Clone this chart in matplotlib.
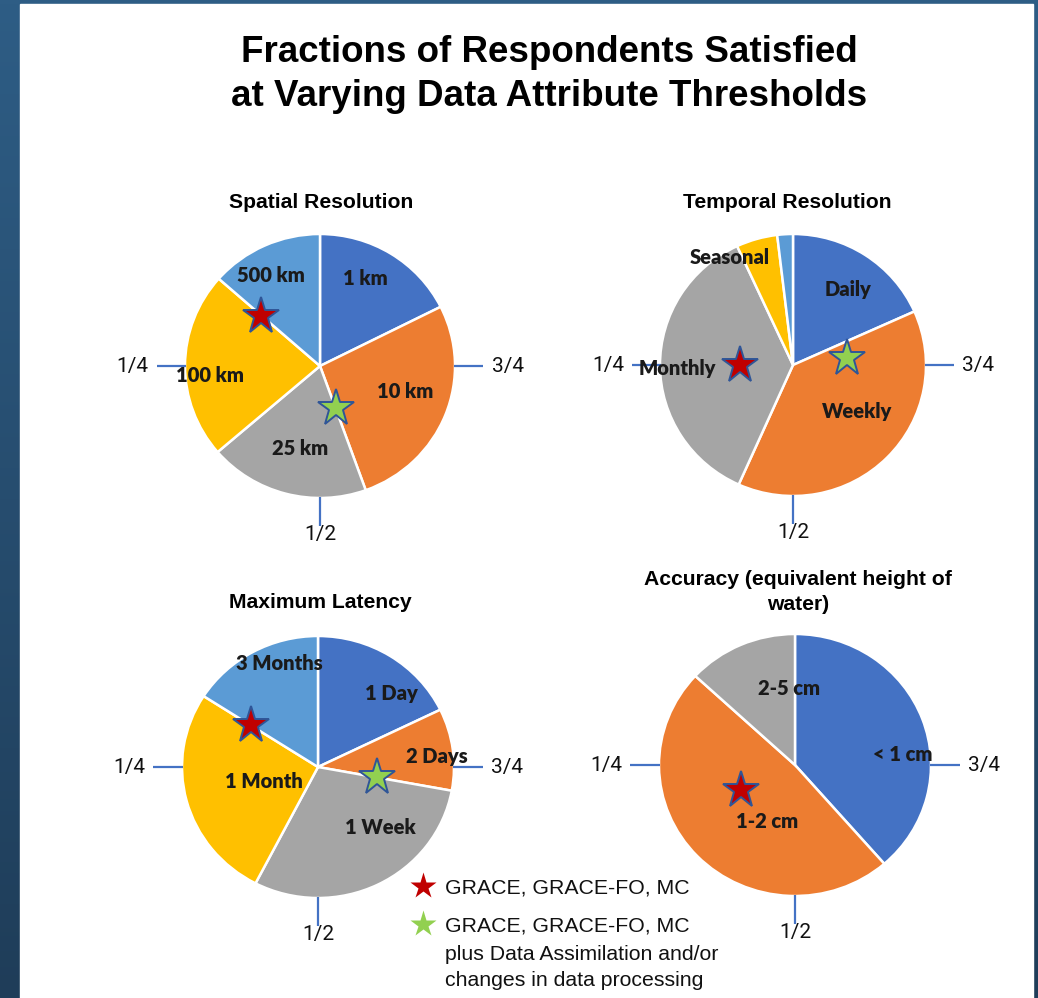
import numpy as np
import matplotlib.pyplot as plt
from matplotlib.patches import Rectangle
from matplotlib.colors import LinearSegmentedColormap

W, H = 1038, 998

# slice shares in percent, listed clockwise from 12 o'clock
spatial_labels = ['1 km', '10 km', '25 km', '100 km', '500 km']
spatial_values = [17.6, 26.9, 19.2, 22.8, 13.5]

temporal_labels = ['Daily', 'Weekly', 'Monthly', 'Seasonal', '']
temporal_values = [18.3, 38.4, 36.4, 5.0, 1.9]

latency_labels = ['1 Day', '2 Days', '1 Week', '1 Month', '3 Months']
latency_values = [17.8, 10.1, 29.7, 26.5, 15.9]

accuracy_labels = ['< 1 cm', '1-2 cm', '2-5 cm']
accuracy_values = [38.6, 48.3, 13.1]

# fraction of respondents satisfied, counted anticlockwise from 12 o'clock
grace_frac = [0.136, 0.25, 0.159, 0.322]
assim_frac = [0.555, 0.771, 0.722, None]

fraction_ticks = ['1/4', '1/2', '3/4']

office = ['#4472C4', '#ED7D31', '#A5A5A5', '#FFC000', '#5B9BD5']
RED, GREEN, EDGE, TICK = '#C00000', '#92D050', '#2F5597', '#4472C4'

# panel layout in pixels: centre, x/y radius, title, label spots (deg cw, r), star radii
panels = [
    dict(labels=spatial_labels, values=spatial_values, c=(320, 366), r=(135, 132),
         title='Spatial Resolution', title_xy=(321, 202),
         spots=[(27, 0.74), (107, 0.66), (193, 0.64), (265, 0.82), (332, 0.78)],
         star_r=(0.58, 0.34)),
    dict(labels=temporal_labels, values=temporal_values, c=(793, 365), r=(133, 131),
         title='Temporal Resolution', title_xy=(787, 203),
         spots=[(36, 0.71), (126, 0.60), (268, 0.87), (330, 0.95), (0, 0)],
         star_r=(0.40, 0.41)),
    dict(labels=latency_labels, values=latency_values, c=(318, 767), r=(136, 131),
         title='Maximum Latency', title_xy=(320, 603),
         spots=[(44, 0.78), (85, 0.88), (135, 0.65), (254, 0.41), (340, 0.84)],
         star_r=(0.59, 0.44)),
    dict(labels=accuracy_labels, values=accuracy_values, c=(795, 765), r=(136, 131),
         title='Accuracy (equivalent height of\nwater)', title_xy=(798, 592),
         spots=[(84, 0.80), (205, 0.48), (356, 0.585)],
         star_r=(0.44, 0.0)),
]

fig = plt.figure(figsize=(W / 100, H / 100), dpi=100)

# slide backdrop: dark blue gradient with a white content area
bg = fig.add_axes([0, 0, 1, 1], zorder=-2)
grad = np.linspace(0, 1, 256).reshape(-1, 1)
slide = LinearSegmentedColormap.from_list('slide', ['#2e5d85', '#1f3d59'])
bg.imshow(grad, aspect='auto', cmap=slide, extent=[0, 1, 0, 1], origin='upper')
bg.add_patch(Rectangle((20 / W, 0), (1033 - 20) / W, 1 - 4 / H, color='white'))
bg.set_xlim(0, 1)
bg.set_ylim(0, 1)
bg.axis('off')

fig.text(549 / W, 1 - 74.5 / H,
         'Fractions of Respondents Satisfied\nat Varying Data Attribute Thresholds',
         ha='center', va='center', fontsize=26.5, fontweight='bold',
         family='Liberation Sans', linespacing=1.33)


def polar(deg, r):
    a = np.deg2rad(deg)
    return r * np.sin(a), r * np.cos(a)


K = 1.6
for i, p in enumerate(panels):
    cx, cy = p['c']
    rx, ry = p['r']
    ax = fig.add_axes([(cx - K * rx) / W, 1 - (cy + K * ry) / H,
                       2 * K * rx / W, 2 * K * ry / H])
    ax.pie(p['values'], colors=office[:len(p['values'])], startangle=90,
           counterclock=False, radius=1,
           wedgeprops=dict(edgecolor='white', linewidth=1.8))
    ax.set_aspect('auto')
    ax.set_xlim(-K, K)
    ax.set_ylim(-K, K)
    ax.axis('off')

    for lab, (deg, r) in zip(p['labels'], p['spots']):
        if lab:
            x, y = polar(deg, r)
            ax.text(x, y, lab, ha='center', va='center', fontsize=14.5,
                    fontweight='heavy', family='Lato', color='#1a1a1a')

    # fraction ticks at 9, 6 and 3 o'clock
    for lab, deg in zip(fraction_ticks, [270, 180, 90]):
        x0, y0 = polar(deg, 0.99)
        x1, y1 = polar(deg, 1.21)
        ax.plot([x0, x1], [y0, y1], color=TICK, lw=1.6, solid_capstyle='butt')
        tx, ty = polar(deg, 1.28 if deg == 180 else 1.39)
        ax.text(tx, ty, lab, ha='center', va='center', fontsize=15,
                family='Roboto', color='#111111')

    for frac, r, fc in [(grace_frac[i], p['star_r'][0], RED),
                        (assim_frac[i], p['star_r'][1], GREEN)]:
        if frac is None:
            continue
        x, y = polar(360 * (1 - frac), r)
        ax.plot(x, y, marker='*', ms=28, mfc=fc, mec=EDGE, mew=1.4)

    tx, ty = p['title_xy']
    fig.text(tx / W, 1 - ty / H, p['title'], ha='center', va='center',
             fontsize=15.2, fontweight='bold', family='Liberation Sans',
             linespacing=1.35)

# legend for the stars
leg = fig.add_axes([0, 0, 1, 1], zorder=5)
leg.set_xlim(0, W)
leg.set_ylim(H, 0)
leg.axis('off')
leg.plot(423, 886, marker='*', ms=20, color=RED, mec='none')
leg.plot(423, 924, marker='*', ms=20, color=GREEN, mec='none')
legend_lines = [('GRACE, GRACE-FO, MC', 893.5),
                ('GRACE, GRACE-FO, MC', 931.5),
                ('plus Data Assimilation and/or', 960.5),
                ('changes in data processing', 986.5)]
for txt, base in legend_lines:
    leg.text(445, base, txt, ha='left', va='baseline', fontsize=15.3,
             family='Liberation Sans', color='#111111')

fig.savefig('out.png', dpi=100)
